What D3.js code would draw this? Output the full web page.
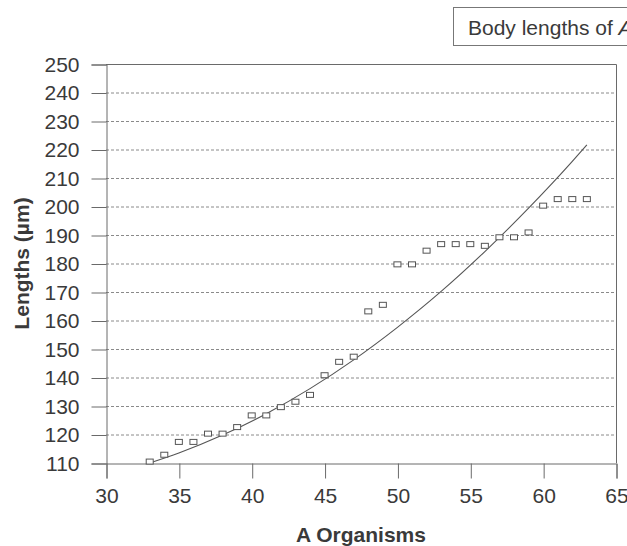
<!DOCTYPE html>
<html>
<head>
<meta charset="utf-8">
<script src="https://cdn.jsdelivr.net/npm/d3@7"></script>
<style>
  html, body { margin: 0; padding: 0; background: #fff; }
  svg { display: block; }
  text { font-family: "Liberation Sans", Arial, Helvetica, sans-serif; fill: #3a3a3a; }
</style>
</head>
<body>
<div id="chart"></div>
<script>
// ---- data ----
const organisms = [33,34,35,36,37,38,39,40,41,42,43,44,45,46,47,48,49,50,51,52,53,54,55,56,57,58,59,60,61,62,63];
const lengths   = [110.5,112.9,117.4,117.4,120.3,120.3,122.6,126.7,126.7,129.6,131.5,133.9,140.8,145.5,147.3,
                   163.2,165.5,179.7,179.7,184.5,186.8,186.8,186.8,186.2,189.2,189.2,190.9,200.3,202.6,202.6,202.6];
// trend line
const trendX = [33,35,38,41,44,47,50,53,56,59,62,63];
const trendY = [110,113.5,119.8,127.3,136.1,146.2,157.6,170.2,184.2,199.4,215.8,221.6];
const xTicks = [30,35,40,45,50,55,60,65];
const yTicks = [110,120,130,140,150,160,170,180,190,200,210,220,230,240,250];
const gridTicks = [120,130,140,150,160,170,180,190,200,210,220,230,240];

const W = 627, H = 546;
const mLeft = 106, mRight = 616, mTop = 64, mBottom = 463;

const svg = d3.select("#chart").append("svg").attr("width", W).attr("height", H);

const x = d3.scaleLinear().domain([30, 65]).range([mLeft, mRight]);
const y = d3.scaleLinear().domain([110, 250]).range([mBottom, mTop]);

const axisColor = "#6a6a6a";

// gridlines
svg.append("g").selectAll("line").data(gridTicks).join("line")
  .attr("x1", mLeft).attr("x2", mRight)
  .attr("y1", d => y(d) + 0.5).attr("y2", d => y(d) + 0.5)
  .attr("stroke", "#8a8a8a").attr("stroke-width", 1)
  .attr("stroke-dasharray", "3,2");

// plot border (top & right)
svg.append("path")
  .attr("d", `M${mLeft},${mTop + 0.5}H${mRight + 0.5}V${mBottom}`)
  .attr("fill", "none").attr("stroke", axisColor).attr("stroke-width", 1);

// y axis
const yAxis = d3.axisLeft(y).tickValues(yTicks).tickSize(15).tickPadding(12).tickFormat(d3.format("d"));
const gy = svg.append("g").attr("transform", `translate(${mLeft + 0.5},0.5)`).call(yAxis);
gy.select(".domain").attr("stroke", axisColor);
gy.selectAll(".tick line").attr("stroke", axisColor);
gy.selectAll(".tick text").attr("font-size", 21).attr("fill", "#3a3a3a")
  .attr("font-family", "Liberation Sans, Arial, sans-serif");

// x axis
const xAxis = d3.axisBottom(x).tickValues(xTicks).tickSize(15).tickPadding(10).tickFormat(d3.format("d"));
const gx = svg.append("g").attr("transform", `translate(0.5,${mBottom + 0.5})`).call(xAxis);
gx.select(".domain").attr("stroke", axisColor);
gx.selectAll(".tick line").attr("stroke", axisColor);
gx.selectAll(".tick text").attr("font-size", 21).attr("fill", "#3a3a3a")
  .attr("font-family", "Liberation Sans, Arial, sans-serif");

// trend line
const line = d3.line().x(d => x(d[0])).y(d => y(d[1])).curve(d3.curveMonotoneX);
svg.append("path")
  .datum(trendX.map((v, i) => [v, trendY[i]]))
  .attr("d", line)
  .attr("fill", "none").attr("stroke", "#555").attr("stroke-width", 1.1);

// markers
svg.append("g").selectAll("rect").data(organisms.map((v, i) => [v, lengths[i]])).join("rect")
  .attr("x", d => x(d[0]) - 3.5).attr("y", d => y(d[1]) - 2.5)
  .attr("width", 7).attr("height", 5)
  .attr("fill", "#fff").attr("stroke", "#555").attr("stroke-width", 1);

// axis titles
svg.append("text")
  .attr("x", (mLeft + mRight) / 2).attr("y", 542)
  .attr("text-anchor", "middle").attr("font-size", 21).attr("font-weight", "bold")
  .text("A Organisms");

svg.append("text")
  .attr("transform", `translate(29,${(mTop + mBottom) / 2}) rotate(-90)`)
  .attr("text-anchor", "middle").attr("font-size", 21).attr("font-weight", "bold")
  .text("Lengths (µm)");

// title box (cut off at right edge, as in the reference)
svg.append("rect")
  .attr("x", 453.5).attr("y", 7.5).attr("width", 260).attr("height", 38)
  .attr("fill", "#fff").attr("stroke", "#777").attr("stroke-width", 1);
const t = svg.append("text").attr("x", 468).attr("y", 35).attr("font-size", 21);
t.append("tspan").text("Body lengths of ");
t.append("tspan").attr("font-style", "italic").text("A");
</script>
</body>
</html>
